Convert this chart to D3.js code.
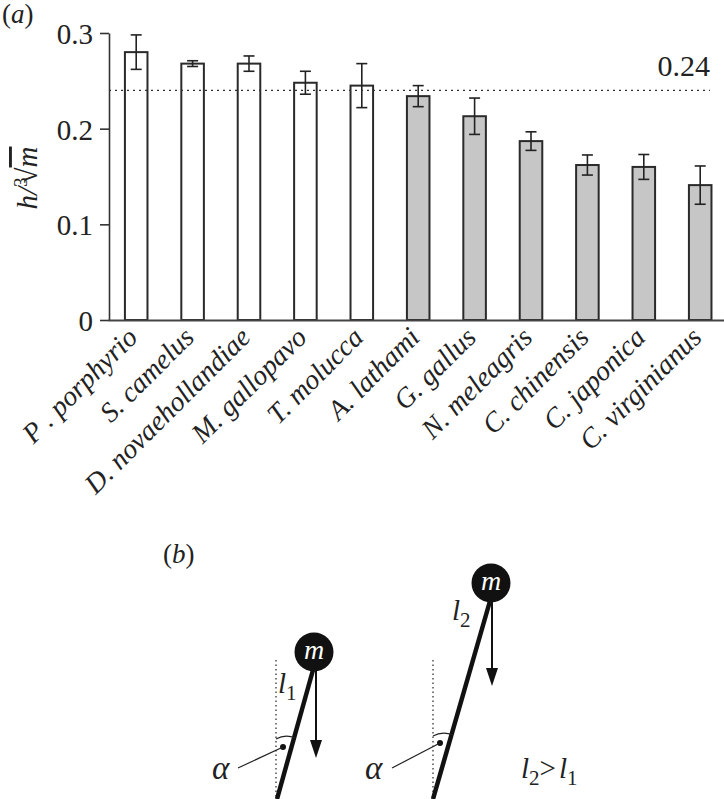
<!DOCTYPE html>
<html><head><meta charset="utf-8">
<script src="https://cdn.jsdelivr.net/npm/d3@7"></script>
<style>
body{margin:0;background:#fff;}
svg{display:block;}
text{font-family:"Liberation Serif","Times New Roman",serif;fill:#222;}
</style></head>
<body>
<svg id="chart" width="724" height="799"></svg>
<script>
const categories = ["P . porphyrio","S. camelus","D. novaehollandiae","M. gallopavo","T. molucca","A. lathami","G. gallus","N. meleagris","C. chinensis","C. japonica","C. virginianus"];
const values = [0.280, 0.268, 0.268, 0.248, 0.245, 0.234, 0.213, 0.187, 0.162, 0.160, 0.141];
const errors = [0.018, 0.003, 0.008, 0.012, 0.023, 0.011, 0.019, 0.0097, 0.0105, 0.013, 0.020];
const shaded = [false,false,false,false,false,true,true,true,true,true,true];
const yTicks = [0, 0.1, 0.2, 0.3];
const refValue = 0.24;
const refLabel = "0.24";

const svg = d3.select("#chart");
const y = d3.scaleLinear().domain([0,0.3]).range([320,33]);
const x = d3.scaleBand().domain(categories).range([108,728.4]).paddingInner(0.6).paddingOuter(0.3);

// panel label (a)
const pa = svg.append("text").attr("x",2).attr("y",23).style("font-size","27px");
pa.append("tspan").text("(");
pa.append("tspan").style("font-style","italic").text("a");
pa.append("tspan").text(")");

// y axis
const yAxis = svg.append("g").attr("transform","translate(109,0)")
  .call(d3.axisLeft(y).tickValues(yTicks).tickFormat(d=>d===0?"0":d3.format(".1f")(d)).tickSize(9).tickSizeOuter(0).tickPadding(7));
yAxis.selectAll("path,line").attr("stroke","#333").attr("stroke-width",1.6);
yAxis.selectAll("text").style("font-size","29px").style("font-family","Liberation Serif").attr("fill","#222").attr("dy","0.36em");

// y label  h / (3)√m
const yl = svg.append("text").attr("transform","translate(37,178) rotate(-90)").attr("text-anchor","middle").style("font-size","29px").style("font-style","italic");
yl.append("tspan").text("h/");
yl.append("tspan").style("font-style","normal").style("font-size","19px").attr("dy",-10).text("3");
yl.append("tspan").style("font-style","normal").attr("dx",-6).attr("dy",10).text("√");
yl.append("tspan").style("text-decoration","overline").text("m");

// bars
svg.append("g").selectAll("rect").data(values).join("rect")
  .attr("x",(d,i)=>x(categories[i])).attr("width",x.bandwidth())
  .attr("y",d=>y(d)).attr("height",d=>y(0)-y(d))
  .attr("fill",(d,i)=>shaded[i]?"#c6c6c6":"#fff")
  .attr("stroke","#2a2a2a").attr("stroke-width",2);

// error bars
const eb = svg.append("g").attr("stroke","#222").attr("stroke-width",1.6);
values.forEach((v,i)=>{
  const cx = x(categories[i]) + x.bandwidth()/2;
  eb.append("line").attr("x1",cx).attr("x2",cx).attr("y1",y(v+errors[i])).attr("y2",y(v-errors[i]));
  [v+errors[i], v-errors[i]].forEach(e=>{
    eb.append("line").attr("x1",cx-5.5).attr("x2",cx+5.5).attr("y1",y(e)).attr("y2",y(e));
  });
});

// x axis
const xAxis = svg.append("g").attr("transform","translate(0,320)")
  .call(d3.axisBottom(x).tickSize(0).tickSizeOuter(0).tickPadding(0));
xAxis.select(".domain").attr("stroke","#444").attr("stroke-width",2);
xAxis.selectAll("text")
  .style("font-size","28px").style("font-style","italic").style("font-family","Liberation Serif").attr("fill","#222")
  .attr("text-anchor","end").attr("dy",null).attr("y",0)
  .attr("transform","translate(3,19) rotate(-45)");

// reference dotted line
svg.append("line").attr("x1",109).attr("x2",710).attr("y1",y(refValue)).attr("y2",y(refValue))
  .attr("stroke","#333").attr("stroke-width",1.4).attr("stroke-dasharray","2,4");
svg.append("text").attr("x",710).attr("y",y(refValue)-14).attr("text-anchor","end").style("font-size","30px").text(refLabel);

// ---- panel (b) diagram ----
const pb = svg.append("text").attr("x",163).attr("y",563).style("font-size","27px");
pb.append("tspan").text("(");
pb.append("tspan").style("font-style","italic").text("b");
pb.append("tspan").text(")");

const pendulums = [
  {cx:314, cy:652, bx:277, by:799, dashX:276, dashTop:660, dotX:283, dotY:747, arrowX:316, arrowEnd:758, alphaX:212, lineFrom:[238,768], lx:278, ly:693, sub:"1", arcY:737},
  {cx:491, cy:583, bx:433, by:799, dashX:433, dashTop:660, dotX:440, dotY:743, arrowX:492, arrowEnd:686, alphaX:365, lineFrom:[392,768], lx:452, ly:620, sub:"2", arcY:734}
];
const dg = svg.append("g");
pendulums.forEach(p=>{
  dg.append("line").attr("x1",p.dashX).attr("x2",p.dashX).attr("y1",p.dashTop).attr("y2",799)
    .attr("stroke","#222").attr("stroke-width",1.2).attr("stroke-dasharray","1.5,3");
  // rod
  dg.append("line").attr("x1",p.cx-1).attr("y1",p.cy+18).attr("x2",p.bx).attr("y2",p.by)
    .attr("stroke","#111").attr("stroke-width",4.5);
  // angle arc
  const t = (p.arcY - (p.cy+18))/(p.by-(p.cy+18));
  const rx = (p.cx-1) + t*(p.bx-(p.cx-1));
  dg.append("path").attr("d",`M${p.dashX},${p.arcY+2} Q${(p.dashX+rx)/2},${p.arcY-3} ${rx+1},${p.arcY+1}`)
    .attr("fill","none").attr("stroke","#222").attr("stroke-width",1.2);
  dg.append("circle").attr("cx",p.dotX).attr("cy",p.dotY).attr("r",3).attr("fill","#111");
  dg.append("line").attr("x1",p.lineFrom[0]).attr("y1",p.lineFrom[1]).attr("x2",p.dotX).attr("y2",p.dotY)
    .attr("stroke","#222").attr("stroke-width",1.2);
  dg.append("text").attr("x",p.alphaX).attr("y",779).style("font-size","33px").style("font-style","italic").text("α");
  // arrow
  dg.append("line").attr("x1",p.arrowX).attr("x2",p.arrowX).attr("y1",p.cy+19).attr("y2",p.arrowEnd-16)
    .attr("stroke","#111").attr("stroke-width",2);
  dg.append("path").attr("d",`M${p.arrowX-6},${p.arrowEnd-18} L${p.arrowX+6},${p.arrowEnd-18} L${p.arrowX},${p.arrowEnd} Z`).attr("fill","#111");
  // mass
  dg.append("circle").attr("cx",p.cx).attr("cy",p.cy).attr("r",19.5).attr("fill","#111");
  dg.append("text").attr("x",p.cx).attr("y",p.cy+7).attr("text-anchor","middle").style("font-size","28px").style("font-style","italic").style("fill","#fff").text("m");
  // length label
  const lt = dg.append("text").attr("x",p.lx).attr("y",p.ly).style("font-size","29px").style("font-style","italic");
  lt.append("tspan").text("l");
  lt.append("tspan").style("font-style","normal").style("font-size","21px").attr("dy",7).text(p.sub);
});
const cmp = dg.append("text").attr("x",521).attr("y",778).style("font-size","29px").style("font-style","italic");
cmp.append("tspan").text("l");
cmp.append("tspan").style("font-style","normal").style("font-size","21px").attr("dy",7).text("2");
cmp.append("tspan").style("font-style","normal").attr("dy",-7).text(">");
cmp.append("tspan").attr("dx",3).text("l");
cmp.append("tspan").style("font-style","normal").style("font-size","21px").attr("dy",7).text("1");
</script>
</body></html>
